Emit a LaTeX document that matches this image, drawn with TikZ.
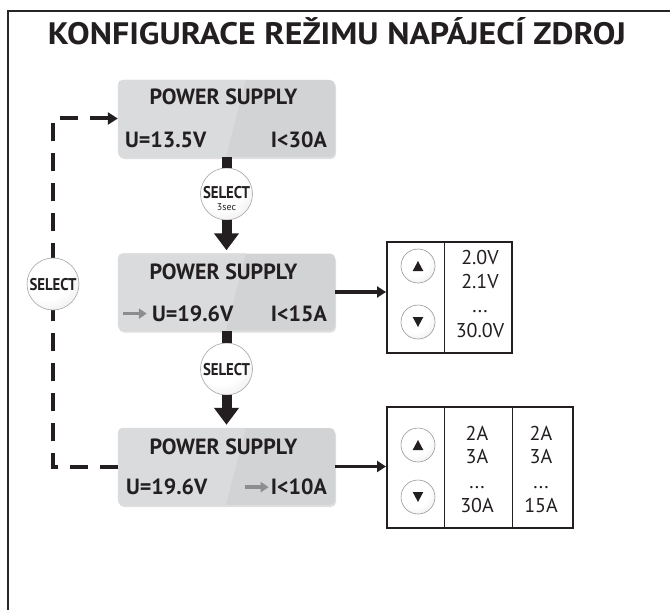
\documentclass[tikz,border=0pt]{standalone}
\usepackage{fontspec}
\setmainfont{PT Sans}
\usetikzlibrary{arrows.meta,shadows,calc}
\definecolor{ink}{HTML}{231F20}
\definecolor{lcdA}{RGB}{218,219,221}
\definecolor{lcdB}{RGB}{210,211,213}
\definecolor{arrowgray}{RGB}{140,141,143}
\pgfdeclareradialshading{selshade}{\pgfpoint{-8bp}{10bp}}{color(0bp)=(white); color(22bp)=(white); color(50bp)=(black!15); color(72bp)=(black!15)}
\tikzset{
 lcd/.style={rectangle, rounded corners=5pt, minimum width=217pt, minimum height=77pt, fill=lcdB, inner sep=0pt,
   drop shadow={opacity=0.25,shadow xshift=1pt,shadow yshift=-2pt}},
 lcdtxt/.style={font=\bfseries\fontsize{22}{24}\selectfont, text=ink, inner sep=0pt},
 selbtn/.style={circle, minimum size=52pt, draw=black!35, line width=0.6pt, shading=selshade, inner sep=0pt},
 updn/.style={circle, minimum size=34pt, draw=black!40, line width=0.6pt, shading=selshade, inner sep=0pt},
 seltxt/.style={font=\bfseries\fontsize{17}{18}\selectfont, text=ink, inner sep=0pt},
 tbl/.style={rectangle, draw=ink, line width=2pt, inner sep=0pt},
 divider/.style={draw=ink, line width=0.8pt},
 tbltxt/.style={font=\fontsize{20}{22}\selectfont, text=ink, inner sep=0pt, anchor=base},
 stem/.style={line width=10pt, draw=ink},
 bigarrow/.style={line width=10pt, draw=ink, -{Triangle[width=24pt,length=17pt]}, shorten >=3pt},
 sidearrow/.style={line width=3.5pt, draw=ink, -{Triangle[width=11pt,length=9pt]}},
 dasharrow/.style={line width=4pt, draw=ink, dash pattern=on 18pt off 12pt, -{Triangle[width=12pt,length=10pt]}},
 grayarrow/.style={line width=3.5pt, draw=arrowgray, -{Triangle[width=10pt,length=8pt]}},
 tri/.style={fill=ink},
}
\begin{document}
\begin{tikzpicture}[x=1pt,y=-1pt]
\useasboundingbox (0,0) rectangle (670,610);
\fill[white] (0,0) rectangle (670,610);
% frame
\coordinate (fbl) at (8,612);
\coordinate (ftl) at (8,11);
\coordinate (ftr) at (672,11);
\draw[line width=2.5pt, draw=black!85] (fbl) -- (ftl) -- (ftr);
% title
\node[font=\bfseries\fontsize{31}{33}\selectfont, text=ink, anchor=base, inner sep=0pt] (title) at (337,45)
  {\resizebox{578pt}{\height}{KONFIGURACE REŽIMU NAPÁJECÍ ZDROJ}};
% LCD boxes
\node[lcd] (b1) at (226.5,118.5) {};
\node[lcd] (b2) at (226.5,292) {};
\node[lcd] (b3) at (226.5,466.5) {};
\foreach \b in {b1,b2,b3}{
  \begin{scope}
  \clip[rounded corners=5pt] (\b.north west) rectangle (\b.south east);
  \fill[lcdA] (\b.north west) -- ($(\b.north west)+(128,0)$) -- ($(\b.south west)+(108,0)$) -- (\b.south west) -- cycle;
  \end{scope}
}
% LCD texts
\node[lcdtxt, anchor=base] (b1t) at ($(b1.north)+(-3,25)$) {POWER SUPPLY};
\node[lcdtxt, anchor=base west] (b1u) at ($(b1.north west)+(7,68)$) {U=13.5V};
\node[lcdtxt, anchor=base east] (b1i) at ($(b1.north east)+(-8,68)$) {I<30A};

\node[lcdtxt, anchor=base] (b2t) at ($(b2.north)+(-3,26)$) {POWER SUPPLY};
\node[lcdtxt, anchor=base west] (b2u) at ($(b2.north west)+(34,68)$) {U=19.6V};
\node[lcdtxt, anchor=base east] (b2i) at ($(b2.north east)+(-8,68)$) {I<15A};
\draw[grayarrow] ($(b2u.west)+(-29,0)$) -- ($(b2u.west)+(-5,0)$);

\node[lcdtxt, anchor=base] (b3t) at ($(b3.north)+(-3,27)$) {POWER SUPPLY};
\node[lcdtxt, anchor=base west] (b3u) at ($(b3.north west)+(8,67)$) {U=19.6V};
\node[lcdtxt, anchor=base east] (b3i) at ($(b3.north east)+(-8,67)$) {I<10A};
\draw[grayarrow] ($(b3i.west)+(-26,0)$) -- ($(b3i.west)+(-2,0)$);

% SELECT buttons
\node[selbtn] (s1) at (226.5,194) {};
\node[seltxt, anchor=base] (s1t) at ($(s1.center)+(0,4)$) {\resizebox{47pt}{\height}{SELECT}};
\node[font=\fontsize{10}{11}\selectfont, text=ink, inner sep=0pt, anchor=base] (s1s) at ($(s1.center)+(0,16)$) {3sec};
\node[selbtn] (s2) at (226.5,369) {};
\node[seltxt, anchor=base] (s2t) at ($(s2.center)+(0,6)$) {\resizebox{47pt}{\height}{SELECT}};

\draw[stem] (b1.south) -- (s1.north);
\draw[bigarrow] (s1.south) -- (b2.north);
\draw[stem] (b2.south) -- (s2.north);
\draw[bigarrow] (s2.south) -- (b3.north);

% dashed loop
\coordinate (slc) at (53,284);
\draw[dasharrow] (b3.west) -| (slc) |- (b1.west);
\node[selbtn] (sl) at (slc) {};
\node[seltxt, anchor=base] (slt) at ($(sl.center)+(0,6)$) {\resizebox{47pt}{\height}{SELECT}};

% table 1
\node[tbl, minimum width=125pt, minimum height=111pt] (t1) at (449.5,297.5) {};
\coordinate (t1d) at (444,242);
\draw[divider] (t1d) -- (t1d |- t1.south);
\node[updn] (u1) at (418,266) {};
\node[updn] (d1) at (418,322) {};
\fill[tri] ($(u1)+(0,-5)$) -- ($(u1)+(5.3,5)$) -- ($(u1)+(-5.3,5)$) -- cycle;
\fill[tri] ($(d1)+(0,5)$) -- ($(d1)+(5.3,-5)$) -- ($(d1)+(-5.3,-5)$) -- cycle;
\node[tbltxt] (t1a) at (480,264) {2.0V};
\node[tbltxt] (t1b) at (480,288) {2.1V};
\node[tbltxt] (t1c) at (480,312) {...};
\node[tbltxt] (t1e) at (480,337) {30.0V};
\draw[sidearrow] (b2.east) -- (b2.east -| t1.west);

% table 2
\node[tbl, minimum width=186pt, minimum height=121pt] (t2) at (480,467.5) {};
\coordinate (t2d1) at (444,407);
\coordinate (t2d2) at (512,407);
\draw[divider] (t2d1) -- (t2d1 |- t2.south);
\draw[divider] (t2d2) -- (t2d2 |- t2.south);
\node[updn] (u2) at (418,445) {};
\node[updn] (d2) at (418,497) {};
\fill[tri] ($(u2)+(0,-5)$) -- ($(u2)+(5.3,5)$) -- ($(u2)+(-5.3,5)$) -- cycle;
\fill[tri] ($(d2)+(0,5)$) -- ($(d2)+(5.3,-5)$) -- ($(d2)+(-5.3,-5)$) -- cycle;
\node[tbltxt] (t2a) at (477,440) {2A};
\node[tbltxt] (t2b) at (477,463) {3A};
\node[tbltxt] (t2c) at (477,488) {...};
\node[tbltxt] (t2e) at (477,512) {30A};
\node[tbltxt] (t2f) at (541,440) {2A};
\node[tbltxt] (t2g) at (541,463) {3A};
\node[tbltxt] (t2h) at (541,488) {...};
\node[tbltxt] (t2i) at (541,512) {15A};
\draw[sidearrow] (b3.east) -- (b3.east -| t2.west);
\end{tikzpicture}
\end{document}
